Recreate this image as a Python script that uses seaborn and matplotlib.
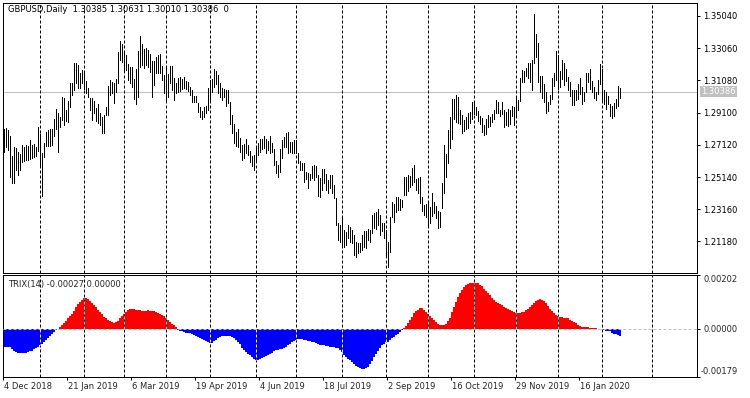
import numpy as np
import pandas as pd
import matplotlib
matplotlib.use("Agg")
import matplotlib.pyplot as plt
import seaborn as sns

# ---------------- data ----------------
symbol_header = "GBPUSD,Daily  1.30385 1.30631 1.30010 1.30386  0"
trix_header = "TRIX(14) -0.00027 0.00000"
last_close = 1.30386

bar_high = [
    1.2809, 1.2815, 1.2803, 1.2766, 1.2643, 1.2698, 1.2692, 1.2668, 1.2655, 1.2711,
    1.2698, 1.2711, 1.2705, 1.2741, 1.2711, 1.2717, 1.2698, 1.2821, 1.2778, 1.2661,
    1.2723, 1.2791, 1.2803, 1.2809, 1.2809, 1.2871, 1.2932, 1.2907, 1.2883, 1.3006,
    1.3000, 1.2926, 1.2981, 1.3092, 1.3092, 1.3215, 1.3215, 1.3203, 1.3153, 1.3172,
    1.3153, 1.3104, 1.3061, 1.3000, 1.3000, 1.2981, 1.2938, 1.2963, 1.2907, 1.2883,
    1.2895, 1.2944, 1.3073, 1.3110, 1.3098, 1.3092, 1.3117, 1.3283, 1.3350, 1.3332,
    1.3289, 1.3264, 1.3209, 1.3190, 1.3190, 1.3117, 1.3178, 1.3289, 1.3381, 1.3332,
    1.3301, 1.3307, 1.3295, 1.3270, 1.3227, 1.3227, 1.3252, 1.3264, 1.3270, 1.3196,
    1.3141, 1.3190, 1.3147, 1.3196, 1.3196, 1.3123, 1.3092, 1.3123, 1.3129, 1.3117,
    1.3129, 1.3104, 1.3098, 1.3067, 1.3049, 1.3012, 1.3012, 1.2969, 1.2944, 1.2920,
    1.2944, 1.2950, 1.3061, 1.3110, 1.3117, 1.3178, 1.3166, 1.3141, 1.3092, 1.3061,
    1.3055, 1.3049, 1.3049, 1.2975, 1.2895, 1.2840, 1.2791, 1.2809, 1.2754, 1.2711,
    1.2717, 1.2748, 1.2711, 1.2674, 1.2643, 1.2649, 1.2698, 1.2723, 1.2748, 1.2748,
    1.2766, 1.2748, 1.2735, 1.2766, 1.2723, 1.2686, 1.2612, 1.2588, 1.2686, 1.2741,
    1.2760, 1.2784, 1.2791, 1.2729, 1.2729, 1.2741, 1.2741, 1.2661, 1.2612, 1.2600,
    1.2600, 1.2545, 1.2538, 1.2532, 1.2582, 1.2588, 1.2582, 1.2526, 1.2508, 1.2563,
    1.2563, 1.2532, 1.2495, 1.2526, 1.2526, 1.2465, 1.2385, 1.2231, 1.2219, 1.2262,
    1.2188, 1.2176, 1.2219, 1.2206, 1.2188, 1.2157, 1.2114, 1.2108, 1.2108, 1.2157,
    1.2182, 1.2182, 1.2194, 1.2188, 1.2280, 1.2292, 1.2299, 1.2317, 1.2280, 1.2231,
    1.2231, 1.2188, 1.2114, 1.2268, 1.2360, 1.2348, 1.2391, 1.2391, 1.2379, 1.2372,
    1.2514, 1.2514, 1.2526, 1.2520, 1.2569, 1.2588, 1.2502, 1.2508, 1.2514, 1.2391,
    1.2342, 1.2348, 1.2354, 1.2329, 1.2415, 1.2360, 1.2335, 1.2305, 1.2299, 1.2477,
    1.2711, 1.2655, 1.2803, 1.2883, 1.2994, 1.2994, 1.3018, 1.3006, 1.2926, 1.2895,
    1.2864, 1.2883, 1.2907, 1.2914, 1.2975, 1.2975, 1.2944, 1.2920, 1.2889, 1.2877,
    1.2834, 1.2871, 1.2895, 1.2883, 1.2901, 1.2926, 1.2987, 1.2975, 1.2926, 1.2975,
    1.2926, 1.2914, 1.2932, 1.2926, 1.2950, 1.2944, 1.3006, 1.2987, 1.3123, 1.3172,
    1.3166, 1.3184, 1.3215, 1.3215, 1.3233, 1.3516, 1.3393, 1.3338, 1.3135, 1.3135,
    1.3086, 1.3037, 1.2975, 1.3018, 1.3123, 1.3153, 1.3289, 1.3264, 1.3166, 1.3233,
    1.3215, 1.3178, 1.3129, 1.3098, 1.3049, 1.3049, 1.3049, 1.3086, 1.3123, 1.3067,
    1.3037, 1.3153, 1.3153, 1.3178, 1.3104, 1.3067, 1.3037, 1.3110, 1.3209, 1.3178,
    1.3049, 1.3037, 1.3012, 1.2963, 1.2950, 1.2969, 1.2994, 1.3073, 1.3063,
]

bar_low = [
    1.2668, 1.2698, 1.2680, 1.2514, 1.2477, 1.2477, 1.2557, 1.2526, 1.2557, 1.2606,
    1.2612, 1.2618, 1.2618, 1.2625, 1.2631, 1.2637, 1.2643, 1.2674, 1.2575, 1.2397,
    1.2637, 1.2705, 1.2705, 1.2705, 1.2711, 1.2766, 1.2809, 1.2668, 1.2821, 1.2864,
    1.2834, 1.2858, 1.2852, 1.2944, 1.3018, 1.3049, 1.3092, 1.3061, 1.3061, 1.3092,
    1.3055, 1.3030, 1.3006, 1.2926, 1.2864, 1.2907, 1.2858, 1.2846, 1.2834, 1.2784,
    1.2784, 1.2895, 1.2895, 1.3018, 1.3030, 1.2969, 1.3037, 1.3092, 1.3233, 1.3221,
    1.3166, 1.3172, 1.3110, 1.3092, 1.3067, 1.2994, 1.2963, 1.3006, 1.3190, 1.3203,
    1.3184, 1.3203, 1.3190, 1.3160, 1.3006, 1.3080, 1.3153, 1.3153, 1.3153, 1.3110,
    1.3030, 1.2981, 1.3006, 1.3092, 1.3049, 1.2987, 1.3030, 1.3037, 1.3043, 1.3055,
    1.3061, 1.3055, 1.3043, 1.3018, 1.2975, 1.2975, 1.2975, 1.2914, 1.2883, 1.2871,
    1.2883, 1.2907, 1.2926, 1.2987, 1.3037, 1.3067, 1.3086, 1.3030, 1.3006, 1.2987,
    1.3006, 1.2950, 1.2969, 1.2840, 1.2784, 1.2723, 1.2705, 1.2698, 1.2668, 1.2618,
    1.2631, 1.2661, 1.2649, 1.2606, 1.2582, 1.2557, 1.2606, 1.2649, 1.2668, 1.2686,
    1.2692, 1.2661, 1.2680, 1.2661, 1.2668, 1.2588, 1.2538, 1.2514, 1.2545, 1.2631,
    1.2698, 1.2698, 1.2661, 1.2668, 1.2661, 1.2661, 1.2661, 1.2600, 1.2557, 1.2557,
    1.2483, 1.2502, 1.2446, 1.2495, 1.2508, 1.2495, 1.2514, 1.2397, 1.2391, 1.2434,
    1.2477, 1.2434, 1.2415, 1.2446, 1.2415, 1.2385, 1.2219, 1.2126, 1.2114, 1.2096,
    1.2083, 1.2096, 1.2139, 1.2114, 1.2108, 1.2034, 1.2022, 1.2046, 1.2053, 1.2065,
    1.2083, 1.2077, 1.2126, 1.2114, 1.2169, 1.2200, 1.2194, 1.2219, 1.2157, 1.2182,
    1.2139, 1.2022, 1.1960, 1.2053, 1.2268, 1.2237, 1.2299, 1.2311, 1.2311, 1.2329,
    1.2403, 1.2403, 1.2428, 1.2452, 1.2465, 1.2483, 1.2434, 1.2415, 1.2354, 1.2305,
    1.2280, 1.2268, 1.2206, 1.2231, 1.2274, 1.2292, 1.2262, 1.2200, 1.2206, 1.2323,
    1.2415, 1.2514, 1.2600, 1.2692, 1.2748, 1.2871, 1.2852, 1.2846, 1.2840, 1.2784,
    1.2797, 1.2809, 1.2815, 1.2846, 1.2871, 1.2901, 1.2895, 1.2858, 1.2840, 1.2791,
    1.2772, 1.2778, 1.2821, 1.2828, 1.2852, 1.2871, 1.2907, 1.2907, 1.2889, 1.2901,
    1.2821, 1.2834, 1.2828, 1.2840, 1.2889, 1.2834, 1.2895, 1.2926, 1.2981, 1.3098,
    1.3098, 1.3135, 1.3123, 1.3098, 1.3049, 1.3215, 1.3252, 1.3098, 1.3037, 1.3000,
    1.2975, 1.2907, 1.2920, 1.2963, 1.2994, 1.3073, 1.3110, 1.3055, 1.3067, 1.3117,
    1.3080, 1.3104, 1.3049, 1.3012, 1.2957, 1.2957, 1.2987, 1.2994, 1.3024, 1.2963,
    1.2981, 1.3037, 1.3098, 1.3055, 1.3037, 1.3000, 1.2987, 1.3024, 1.3086, 1.2981,
    1.2963, 1.2932, 1.2963, 1.2889, 1.2877, 1.2889, 1.2938, 1.2950, 1.3001,
]

# TRIX(14) per bar, in units of 0.00001
trix_x1e5 = [
    -66, -66, -66, -67, -73, -83, -86, -88, -88, -88,
    -88, -88, -87, -83, -80, -75, -71, -66, -61, -55,
    -48, -40, -34, -27, -18, -10, -5, 1, 7, 15,
    21, 29, 39, 49, 56, 67, 80, 92, 99, 106,
    114, 116, 110, 105, 97, 89, 81, 72, 62, 55,
    46, 39, 33, 28, 25, 23, 26, 30, 39, 48,
    55, 64, 71, 73, 74, 74, 72, 71, 69, 68,
    68, 68, 69, 68, 67, 65, 62, 61, 57, 52,
    48, 40, 33, 26, 20, 15, 7, -2, -6, -9,
    -11, -13, -15, -16, -17, -21, -26, -30, -34, -37,
    -41, -46, -50, -53, -52, -46, -40, -35, -29, -26,
    -25, -25, -25, -26, -28, -35, -41, -47, -57, -69,
    -78, -86, -92, -97, -105, -110, -114, -115, -113, -108,
    -105, -101, -95, -92, -88, -83, -79, -78, -75, -73,
    -72, -66, -61, -55, -50, -46, -40, -37, -37, -38,
    -39, -40, -43, -46, -48, -50, -53, -56, -59, -61,
    -61, -63, -64, -65, -66, -68, -71, -72, -77, -86,
    -96, -104, -110, -116, -124, -130, -136, -139, -144, -147,
    -149, -144, -139, -130, -117, -105, -92, -81, -69, -61,
    -55, -50, -47, -41, -35, -28, -22, -17, -11, -5,
    2, 11, 21, 33, 46, 58, 66, 72, 76, 77,
    72, 64, 57, 49, 41, 35, 26, 18, 14, 14,
    15, 20, 29, 39, 64, 83, 101, 119, 133, 145,
    154, 162, 167, 170, 171, 171, 171, 169, 164, 158,
    149, 139, 132, 126, 116, 107, 101, 95, 92, 88,
    83, 77, 73, 70, 66, 62, 59, 58, 61, 62,
    64, 70, 75, 83, 88, 95, 103, 107, 110, 108,
    103, 95, 86, 75, 66, 61, 53, 48, 46, 44,
    42, 41, 39, 35, 30, 27, 21, 15, 12, 9,
    7, 6, 6, 4, 3, 3, 2, 1, 0, -1,
    -3, -6, -7, -9, -14, -17, -20, -24, -27,
]

price_ticks = [1.35040, 1.33060, 1.31080, 1.29100, 1.27120, 1.25140, 1.23160, 1.21180]
trix_top, trix_bottom = 0.00202, -0.00179
date_labels = ["4 Dec 2018", "21 Jan 2019", "6 Mar 2019", "19 Apr 2019", "4 Jun 2019",
               "18 Jul 2019", "2 Sep 2019", "16 Oct 2019", "29 Nov 2019", "16 Jan 2020"]
date_label_bars = [0, 32, 64, 96, 128, 160, 192, 224, 256, 288]
month_start_bars = [18, 40, 60, 81, 103, 126, 146, 169, 191, 212, 235, 256, 277, 299, 324]

# ---------------- style ----------------
sns.set_style("white")
plt.rcParams['font.family'] = ['DejaVu Sans']
FS = 6.0
PX = 0.72  # one pixel in points at 100 dpi

W, H = 750, 398
fig = plt.figure(figsize=(W / 100, H / 100), dpi=100)
fig.patch.set_facecolor("white")


def rect(l, t, r, b):
    return [l / W, 1 - b / H, (r - l) / W, (b - t) / H]


ax1 = fig.add_axes(rect(2.5, 2.5, 696.5, 272.5))
ax2 = fig.add_axes(rect(2.5, 274.5, 696.5, 377.3))

n = len(bar_high)
idx = np.arange(n)
XL = (-0.75, 346.25)

# ---------------- price panel ----------------
ax1.vlines(idx, bar_low, bar_high, colors="black", linewidth=PX, antialiased=False, zorder=3)
ax1.axhline(last_close, color="#C0C0C0", linewidth=PX, zorder=1)
for m in month_start_bars:
    ax1.axvline(m, color="black", linewidth=PX, linestyle=(0, (3, 2)), zorder=2)

ax1.set_xlim(*XL)
ax1.set_ylim(1.19268, 1.35870)
ax1.set_xticks([])
ax1.yaxis.tick_right()
ax1.set_yticks(price_ticks)
ax1.set_yticklabels([f"{v:.5f}" for v in price_ticks], fontsize=FS)
ax1.tick_params(axis="y", direction="out", length=3 * PX, width=PX, pad=4 * PX,
                colors="black", right=True, left=False)
ax1.text(6 / 694 + 0.0, 1 - (10 - 2.5) / 270, symbol_header, transform=ax1.transAxes,
         fontsize=FS, va="center", ha="left", color="black")
ax1.text(1 + 4.5 / 694, last_close, f"{last_close:.5f}", transform=ax1.get_yaxis_transform(),
         fontsize=FS, va="center", ha="left", color="white", clip_on=False,
         bbox=dict(boxstyle="square,pad=0.15", facecolor="#C0C0C0", edgecolor="none"))

# ---------------- TRIX panel ----------------
trix = np.array(trix_x1e5) * 1e-5
df = pd.DataFrame({"bar": idx, "trix": trix})
df["sign"] = np.where(df["trix"] >= 0, "up", "down")
sns.barplot(data=df, x="bar", y="trix", hue="sign", hue_order=["up", "down"],
            palette={"up": "#FF0000", "down": "#0000FF"}, native_scale=True,
            width=1.0, dodge=False, errorbar=None, saturation=1, linewidth=0,
            legend=False, ax=ax2, antialiased=False, zorder=2)

ax2.axhline(0, color="#C0C0C0", linewidth=PX, linestyle=(0, (3, 2)), zorder=4)
for m in month_start_bars:
    ax2.axvline(m, color="black", linewidth=PX, linestyle=(0, (3, 2)), zorder=3)
    if m < n and trix[m] != 0:
        c = "#00FFFF" if trix[m] > 0 else "#FFFF00"
        ax2.vlines(m, 0, trix[m], colors=c, linewidth=PX, linestyle=(0, (3, 2)), zorder=5)

ax2.set_xlim(*XL)
ax2.set_ylim(trix_bottom, trix_top)
ax2.set_xlabel("")
ax2.set_ylabel("")
ax2.yaxis.tick_right()
ax2.set_yticks([trix_top, 0.0, trix_bottom])
ax2.set_yticklabels([])
ax2.tick_params(axis="y", direction="out", length=3 * PX, width=PX, colors="black",
                right=True, left=False)
ytr = ax2.get_yaxis_transform()
ax2.text(1 + 7 / 694, 1 - 4.5 / 102.8, f"{trix_top:.5f}", transform=ax2.transAxes,
         fontsize=FS, va="center", ha="left", clip_on=False)
ax2.text(1 + 7 / 694, 0.0, "0.00000", transform=ytr, fontsize=FS, va="center", ha="left",
         clip_on=False)
ax2.text(1 + 4 / 694, 5.6 / 102.8, f"{trix_bottom:.5f}", transform=ax2.transAxes,
         fontsize=FS, va="center", ha="left", clip_on=False)
ax2.text(6 / 694, 1 - (284 - 274.5) / 102.8, trix_header, transform=ax2.transAxes,
         fontsize=FS, va="center", ha="left")

tick_pos = [b - 0.5 for b in date_label_bars]
ax2.set_xticks(tick_pos)
ax2.set_xticklabels([])
ax2.tick_params(axis="x", direction="out", length=3 * PX, width=PX, colors="black",
                bottom=True)
xtr = ax2.get_xaxis_transform()
for b, lab in zip(tick_pos, date_labels):
    ax2.text(b + 0.6, -(386.7 - 377.3) / 102.8, lab, transform=xtr, fontsize=FS,
             va="center", ha="left", clip_on=False)

for ax in (ax1, ax2):
    ax.set_facecolor("white")
    ax.grid(False)
    for s in ax.spines.values():
        s.set_visible(True)
        s.set_color("black")
        s.set_linewidth(PX)

fig.savefig("out.png", dpi=100, facecolor="white")
